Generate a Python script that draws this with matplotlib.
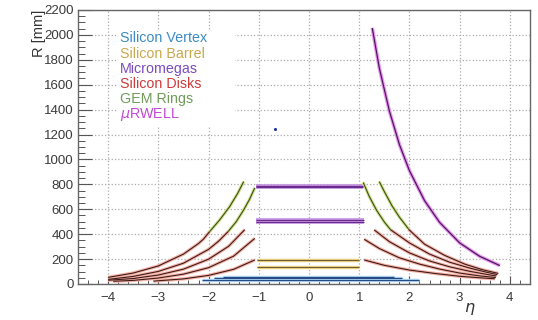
import matplotlib
matplotlib.use("Agg")
import matplotlib.pyplot as plt
from matplotlib.ticker import MultipleLocator
from matplotlib.patches import Rectangle

plt.rcParams['font.family'] = ['Liberation Sans', 'DejaVu Sans']

# ---- data (eta, R in mm) ----
# silicon vertex layers: radius and eta extent
vtx_R = [36, 46, 56]
vtx_lo = [-2.14, -1.90, -1.72]
vtx_hi = [2.19, 1.85, 1.70]
stray_eta = [-0.67]
stray_R = [1245]

# silicon barrel layers
bar_R = [190, 140]
bar_lo = [-1.03, -1.03]
bar_hi = [1.00, 1.00]

# micromegas layers
mm_R = [790, 775, 515, 500]
mm_lo = [-1.05, -1.05, -1.05, -1.05]
mm_hi = [1.07, 1.07, 1.10, 1.10]

# silicon disks (left = backward, right = forward)
disk_eta = [
    [-4.0, -3.5, -3.0, -2.5, -2.2, -2.1, -1.98],
    [-4.0, -3.5, -3.0, -2.5, -2.0, -1.8, -1.61],
    [-4.0, -3.5, -3.0, -2.5, -2.0, -1.6, -1.28],
    [-3.9, -3.5, -3.0, -2.5, -2.0, -1.5, -1.08],
    [-3.1, -2.5, -2.0, -1.5, -1.08],
    [1.10, 1.5, 2.0, 2.5, 3.0, 3.4, 3.70],
    [1.10, 1.4, 1.8, 2.2, 2.6, 3.0, 3.4, 3.72],
    [1.30, 1.6, 2.0, 2.4, 2.8, 3.2, 3.5, 3.73],
    [1.63, 2.0, 2.4, 2.8, 3.2, 3.5, 3.75],
    [1.98, 2.3, 2.7, 3.1, 3.45, 3.77],
]
disk_R = [
    [53, 88, 145, 240, 325, 361, 420],
    [37, 61, 101, 167, 278, 344, 421],
    [30, 44, 72, 119, 199, 303, 436],
    [22, 29, 48, 79, 131, 224, 366],
    [23, 41, 69, 118, 193],
    [193, 150, 112, 85, 62, 50, 42],
    [359, 285, 210, 160, 120, 88, 65, 52],
    [434, 340, 250, 185, 138, 102, 80, 64],
    [434, 330, 240, 175, 128, 98, 75],
    [440, 320, 230, 160, 115, 85],
]

# GEM rings
gem_eta = [
    [-1.98, -1.78, -1.58, -1.42, -1.30],
    [-1.61, -1.45, -1.30, -1.18, -1.08],
    [1.08, 1.20, 1.35, 1.50, 1.63],
    [1.40, 1.50, 1.65, 1.80, 1.98],
]
gem_R = [
    [420, 514, 621, 728, 822],
    [421, 500, 595, 683, 772],
    [815, 703, 589, 498, 433],
    [822, 742, 630, 537, 443],
]

# uRWELL
urw_eta = [1.26, 1.4, 1.6, 1.8, 2.0, 2.3, 2.6, 3.0, 3.4, 3.8]
urw_R = [2055, 1735, 1390, 1120, 910, 670, 495, 330, 222, 148]

names = ['Silicon Vertex', 'Silicon Barrel', 'Micromegas', 'Silicon Disks',
         'GEM Rings', r'$\mu$RWELL']
text_colors = ['#3b8bc4', '#c9a84c', '#7b4bbd', '#cc3a3a', '#6e9c58', '#c248d6']

# (halo, core) colours
vtx_c = ('#a8d4f2', '#2a4a86')
bar_c = ('#e6cc78', '#6b5a32')
mm_c = ('#c290e0', '#6a2d8c')
disk_c = ('#f5b3a6', '#3e1a1a')
gem_c = ('#cfe486', '#3a4a22')
urw_c = ('#ec94f4', '#4a1a58')

fig = plt.figure(figsize=(5.38, 3.20), dpi=100)
ax = fig.add_axes([0.145, 0.1125, 0.84, 0.8565])


def draw(x, y, cols, halo=3.0, core=0.9):
    ax.plot(x, y, color=cols[0], lw=halo, solid_capstyle='butt', zorder=3)
    ax.plot(x, y, color=cols[1], lw=core, solid_capstyle='butt', zorder=4)


for r, lo, hi in zip(vtx_R, vtx_lo, vtx_hi):
    draw([lo, hi], [r, r], vtx_c, halo=2.4, core=0.8)
ax.scatter(stray_eta, stray_R, s=1.5, color='#2233aa', zorder=4)

for r, lo, hi in zip(bar_R, bar_lo, bar_hi):
    draw([lo, hi], [r, r], bar_c, halo=2.4, core=0.7)

for r, lo, hi in zip(mm_R, mm_lo, mm_hi):
    draw([lo, hi], [r, r], mm_c, halo=2.6, core=0.8)

for e, r in zip(disk_eta, disk_R):
    draw(e, r, disk_c, halo=2.4, core=0.8)

for e, r in zip(gem_eta, gem_R):
    draw(e, r, gem_c, halo=2.3, core=0.8)

draw(urw_eta, urw_R, urw_c, halo=2.6, core=0.9)

ax.set_xlim(-4.6, 4.4)
ax.set_ylim(0, 2200)
ax.xaxis.set_major_locator(MultipleLocator(1))
ax.xaxis.set_minor_locator(MultipleLocator(0.2))
ax.yaxis.set_major_locator(MultipleLocator(200))
ax.yaxis.set_minor_locator(MultipleLocator(50))
ax.tick_params(which='both', direction='in', top=False, right=False,
               colors='#555555', labelcolor='#3a3a3a', labelsize=9.5)
ax.tick_params(axis='x', which='major', length=6, width=0.8, pad=6)
ax.tick_params(axis='x', which='minor', length=3, width=0.7)
ax.tick_params(axis='y', which='major', length=10, width=0.8, pad=3)
ax.tick_params(axis='y', which='minor', length=5, width=0.7)
ax.grid(True, which='major', color='#aaaaaa', linestyle=':', linewidth=0.9)
for s in ax.spines.values():
    s.set_color('#666666')
    s.set_linewidth(1.0)

# legend box (white, no border) with coloured entries
ax.add_patch(Rectangle((-3.80, 1270), 2.32, 770, facecolor='white',
                       edgecolor='none', zorder=2.5))
fig.text(0.072, 0.97, 'R [mm]', rotation=90, ha='center', va='top',
         fontsize=10.5, color='#333333')
fig.text(0.873, 0.035, r'$\eta$', ha='center', va='center',
         fontsize=11.5, color='#333333')

for i, (n, c) in enumerate(zip(names, text_colors)):
    ax.text(0.093, 0.896 - i * 0.0555, n, transform=ax.transAxes,
            color=c, fontsize=10.3, ha='left', va='center', zorder=5)

fig.savefig('out.png', dpi=100)
